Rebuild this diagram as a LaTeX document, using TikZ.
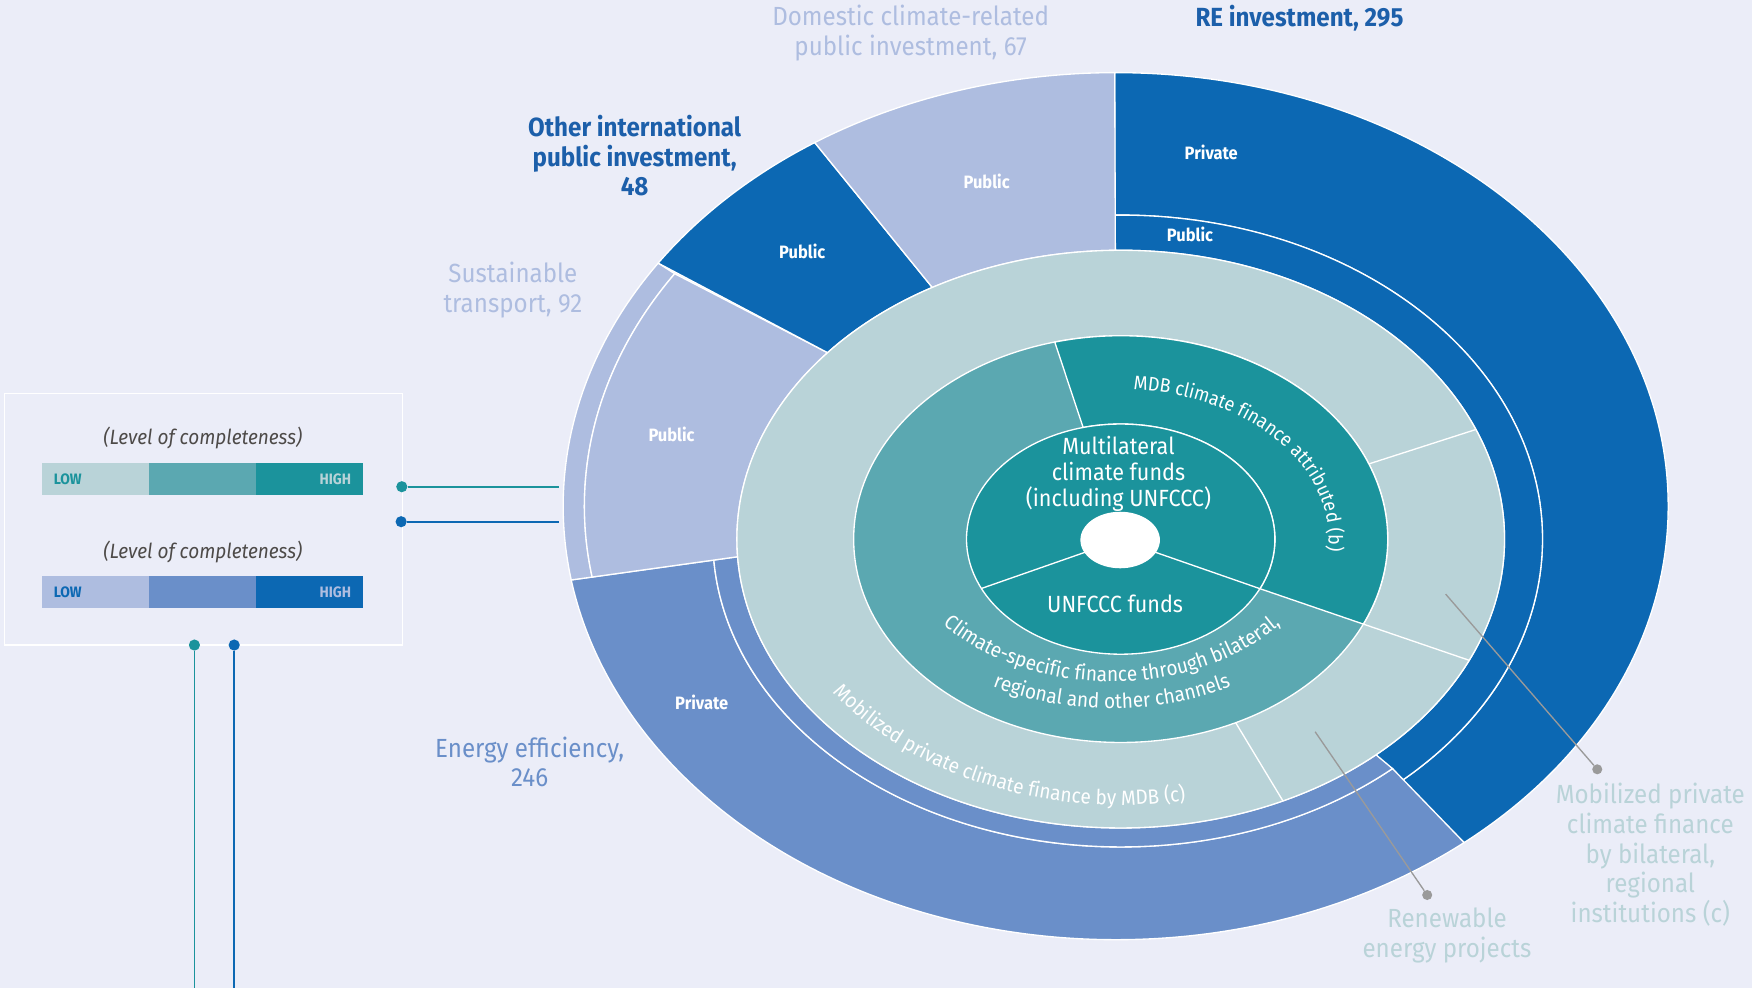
\documentclass[tikz,border=0pt]{standalone}
\usepackage{fontspec}
\setmainfont{Fira Sans}[FakeStretch=0.92]
\usepackage{tikz}
\usetikzlibrary{calc, decorations.text}
\definecolor{bgc}{HTML}{EBEDF8}
\definecolor{dblue}{HTML}{0C68B3}
\definecolor{mblue}{HTML}{6A8FC9}
\definecolor{lblue}{HTML}{AEBDE0}
\definecolor{dteal}{HTML}{1B939C}
\definecolor{mteal}{HTML}{5BA8B1}
\definecolor{lteal}{HTML}{B9D3D8}
\definecolor{ptr}{HTML}{9A9A9A}
\definecolor{lvlgray}{HTML}{4D4A48}
\definecolor{retxt}{HTML}{1C5FAA}
\tikzset{seg/.style={draw=white, line width=1.2pt}}
\tikzset{segtxt/.style={text=white, font=\fontsize{16}{18}\selectfont\bfseries}}
\tikzset{outlbl/.style={align=center, font=\fontsize{23.5}{26.5}\selectfont}}
\tikzset{lvl/.style={text=lvlgray, font=\fontsize{18.5}{21}\selectfont\itshape}}
\tikzset{barlbl/.style={font=\fontsize{13.5}{15}\selectfont\bfseries, inner sep=0pt}}
\tikzset{ptrdot/.style={circle, fill=ptr, inner sep=0pt, minimum size=9pt}}
\tikzset{lgdot/.style={circle, inner sep=0pt, minimum size=10pt}}
\newcommand{\curvefont}{\color{white}\fontsize{18.5}{18.5}\selectfont}
\newcommand{\mdbfont}{\color{white}\fontsize{17.5}{17.5}\selectfont}
\newcommand{\ringseg}[9]{\filldraw[seg, fill=#1] ($(#2)+(#4:#3)$) arc (#4:#5:#3) -- ($(#6)+(#8:#7)$) arc (#8:#9:#7) -- cycle;}
\begin{document}
\begin{tikzpicture}[x=1pt, y=1pt]
\fill[bgc] (0,0) rectangle (1568,884);
\useasboundingbox (0,0) rectangle (1568,884);
\coordinate (c0) at (1003,401.5);
\coordinate (co) at (998.5,431);
\coordinate (hole) at (1002.5,400.7);
\ringseg{dblue}{co}{494.5 and 388}{90.1}{-50.9}{c0}{377.5 and 290}{-48.2}{90.8}
\ringseg{dblue}{c0}{377.5 and 290}{90.8}{-48.2}{c0}{343.5 and 258.5}{-48.3}{90.8}
\ringseg{mblue}{co}{494.5 and 388}{-50.9}{-170.2}{c0}{365 and 275.5}{-176.1}{-48.2}
\ringseg{mblue}{c0}{365 and 275.5}{-48.2}{-176.1}{c0}{343.5 and 258.5}{-176.5}{-48.3}
\ringseg{lblue}{co}{494.5 and 388}{189.8}{145.9}{co}{475.5 and 373}{146.1}{189.8}
\ringseg{lblue}{co}{475.5 and 373}{189.8}{146.1}{c0}{343.5 and 258.5}{139.8}{183.5}
\ringseg{dblue}{co}{494.5 and 388}{145.9}{123}{c0}{343.5 and 258.5}{119.4}{139.8}
\ringseg{lblue}{co}{494.5 and 388}{123}{90.1}{c0}{343.5 and 258.5}{90.8}{119.4}
\filldraw[seg, fill=lteal] (c0) ellipse (343.5 and 258.5);
\filldraw[seg, fill=mteal] (c0) ellipse (239 and 182);
\ringseg{dteal}{c0}{239 and 182}{104.3}{-24.7}{c0}{138 and 103}{-25.5}{104.1}
\filldraw[seg, fill=dteal] (c0) ellipse (138 and 103);
\draw[seg]
($(c0)+(21.7:239 and 182)$) -- ($(c0)+(22.3:343.5 and 258.5)$)
($(c0)+(-24.7:239 and 182)$) -- ($(c0)+(-24.8:343.5 and 258.5)$)
($(c0)+(-64.5:239 and 182)$) -- ($(c0)+(-65:343.5 and 258.5)$)
(hole) -- ($(c0)+(-25.5:138 and 103)$)
(hole) -- ($(c0)+(205.4:138 and 103)$);
\fill[white] (hole) ellipse (35.6 and 25.3);
\node[segtxt] (rePriv) at (1084,748) {Private};
\node[segtxt] (rePub) at (1065,674) {Public};
\node[segtxt] (domPub) at (883,722) {Public};
\node[segtxt] (oiPub) at (718,659) {Public};
\node[segtxt] (stPub) at (601,495) {Public};
\node[segtxt] (eePriv) at (628,255) {Private};
\node[align=center, text=white, font=\fontsize{21}{23.5}\selectfont] (multi) at (1001,460) {Multilateral\\climate funds\\(including UNFCCC)};
\node[text=white, font=\fontsize{21}{24}\selectfont] (unfccc) at (998,344) {UNFCCC funds};
\path[decorate, decoration={text along path, text align=center, text={|\mdbfont|MDB climate finance attributed (b)}}]
($(c0)+(92:186 and 134)$) arc (92:-12:186 and 134);
\path[decorate, decoration={text along path, text align=center, text={|\curvefont|Climate-specific finance through bilateral,}}]
($(995,422)+(200:200 and 148)$) arc (200:340:200 and 148);
\path[decorate, decoration={text along path, text align=center, text={|\curvefont|regional and other channels}}]
($(995,422)+(210:232 and 172)$) arc (210:330:232 and 172);
\path[decorate, decoration={text along path, text align=center, text={|\curvefont|Mobilized private climate finance by MDB (c)}}]
($(c0)+(188:315 and 238)$) arc (188:303:315 and 238);
\node[outlbl, text=lblue] (domLbl) at (815,854.5) {Domestic climate-related\\public investment, 67};
\node[outlbl, text=retxt, font=\fontsize{23.5}{26.5}\selectfont\bfseries] (reLbl) at (1163,868) {RE investment, 295};
\node[outlbl, text=retxt, font=\fontsize{23.5}{26.5}\selectfont\bfseries] (oiLbl) at (568,744.7) {Other international\\public investment,\\48};
\node[outlbl, text=lblue] (stLbl) at (459,624.5) {Sustainable\\transport, 92};
\node[outlbl, text=mblue] (eeLbl) at (474,202) {Energy efficiency,\\246};
\node[outlbl, text=lteal] (renLbl) at (1295,47) {Renewable\\energy projects};
\node[outlbl, text=lteal] (bilLbl) at (1477,119) {Mobilized private\\climate finance\\by bilateral,\\regional\\institutions (c)};
\coordinate (repIn) at (1177,229.1);
\node[ptrdot] (repDot) at (1277.3,83) {};
\draw[ptr, line width=1.2pt] (repIn) -- (repDot);
\coordinate (bilIn) at (1293.8,352.3);
\node[ptrdot] (bilDot) at (1429.5,195.5) {};
\draw[ptr, line width=1.2pt] (bilIn) -- (bilDot);
\draw[white, line width=1.2pt] (4.1,306.7) rectangle (360.3,532);
\node[lvl] (lvlTeal) at (181.5,491.7) {(Level of completeness)};
\node[lvl] (lvlBlue) at (181.5,390.2) {(Level of completeness)};
\foreach \c [count=\i from 0] in {lteal,mteal,dteal}
    \fill[\c] ({37.7+95.67*\i},441) rectangle ++(95.67,28.3);
\foreach \c [count=\i from 0] in {lblue,mblue,dblue}
    \fill[\c] ({37.7+95.67*\i},340.1) rectangle ++(95.67,28.4);
\node[barlbl, text=dteal, anchor=west] (lowTeal) at (48,455.2) {LOW};
\node[barlbl, text=lteal, anchor=east] (highTeal) at (314.4,455.2) {HIGH};
\node[barlbl, text=dblue, anchor=west] (lowBlue) at (48,354.3) {LOW};
\node[barlbl, text=lblue, anchor=east] (highBlue) at (314.4,354.3) {HIGH};
\node[lgdot, fill=dteal] (tdotR) at (359.6,448.4) {};
\coordinate (tendR) at (500,448.4);
\draw[dteal, line width=1.5pt] (tdotR) -- (tendR);
\node[lgdot, fill=dblue] (bdotR) at (359,417.1) {};
\coordinate (bendR) at (500,417.1);
\draw[dblue, line width=1.5pt] (bdotR) -- (bendR);
\node[lgdot, fill=dteal] (tdotB) at (174,306.7) {};
\coordinate (tendB) at (174,0);
\draw[dteal, line width=1.5pt] (tdotB) -- (tendB);
\node[lgdot, fill=dblue] (bdotB) at (209.6,306.7) {};
\coordinate (bendB) at (209.6,0);
\draw[dblue, line width=1.5pt] (bdotB) -- (bendB);
\end{tikzpicture}
\end{document}
